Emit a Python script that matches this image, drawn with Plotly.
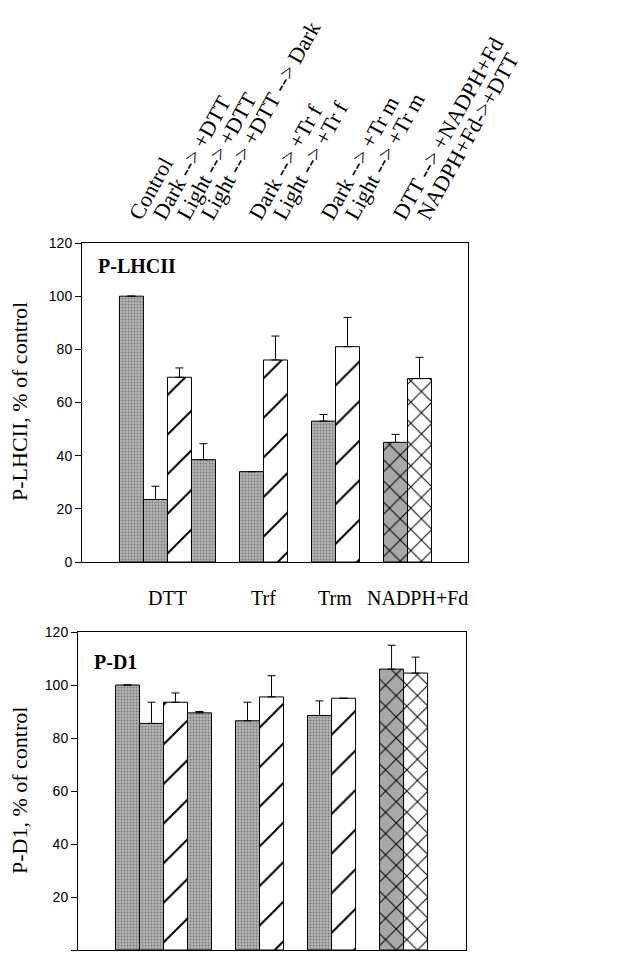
import plotly.graph_objects as go

# ---------------- data ----------------
conditions = ["Control", "Dark --> +DTT", "Light --> +DTT", "Light --> +DTT --> Dark",
              "Dark --> +Tr f", "Light --> +Tr f",
              "Dark --> +Tr m", "Light --> +Tr m",
              "DTT --> +NADPH+Fd", "NADPH+Fd->+DTT"]
group_names = ["DTT", "Trf", "Trm", "NADPH+Fd"]
group_sizes = [4, 2, 2, 2]

lhcii_values = [100, 23.5, 69.5, 38.5, 34, 76, 53, 81, 45, 69]
lhcii_errors = [None, 5, 3.5, 6, None, 9, 2.5, 11, 3, 8]

d1_values = [100, 85.5, 93.5, 89.5, 86.5, 95.5, 88.5, 95, 106, 104.5]
d1_errors = [None, 8, 3.5, 0.5, 7, 8, 5.5, None, 9, 6]

# ---------------- styles ----------------
bar_styles = ["stipple", "stipple", "hatch", "stipple", "stipple", "hatch",
              "stipple", "hatch", "xgray", "xwhite"]
STYLE = {
    "stipple": dict(shape=".", fg="#7c7c7c", bg="#b6b6b6", size=3, sol=0.35),
    "hatch": dict(shape="/", fg="black", bg="white", size=28, sol=0.07),
    "xgray": dict(shape="x", fg="black", bg="#a8a8a8", size=15, sol=0.13),
    "xwhite": dict(shape="x", fg="black", bg="white", size=15, sol=0.13),
}

# x positions: consecutive slots in a group, one empty slot between groups
positions = []
group_centers = []
slot = 0
for size in group_sizes:
    members = list(range(slot, slot + size))
    positions += members
    group_centers.append(sum(members) / size)
    slot += size + 1

serif = "Liberation Serif, Times New Roman, serif"
sans = "Liberation Sans, Arial, sans-serif"

fig = go.Figure()


def add_bars(values, errors, xa, ya):
    for style_name, st in STYLE.items():
        idx = [i for i, s in enumerate(bar_styles) if s == style_name]
        if not idx:
            continue
        fig.add_trace(go.Bar(
            x=[positions[i] for i in idx], y=[values[i] for i in idx],
            width=1, xaxis=xa, yaxis=ya,
            marker=dict(
                color=st["bg"],
                line=dict(color="black", width=1),
                pattern=dict(shape=st["shape"], fgcolor=st["fg"], bgcolor=st["bg"],
                             size=st["size"], solidity=st["sol"], fillmode="replace"),
            ),
            error_y=dict(type="data", symmetric=False,
                         array=[errors[i] for i in idx],
                         arrayminus=[0] * len(idx), color="black",
                         thickness=1, width=4),
            showlegend=False, hoverinfo="skip",
        ))


add_bars(lhcii_values, lhcii_errors, "x", "y")
add_bars(d1_values, d1_errors, "x2", "y2")

W, H = 618, 953

axis_common = dict(showgrid=False, zeroline=False, showline=True, linecolor="black",
                   linewidth=1, mirror=True, automargin=False)

fig.update_layout(
    width=W, height=H, margin=dict(l=0, r=0, t=0, b=0),
    paper_bgcolor="white", plot_bgcolor="white", barmode="overlay",
    xaxis=dict(domain=[82 / W, 468 / W], range=[-2.06, 14.02], anchor="y",
               side="top", tickmode="array", tickvals=positions, ticktext=conditions,
               tickangle=-61, ticks="", ticklabelstandoff=6,
               tickfont=dict(family=serif, size=22, color="black"), **axis_common),
    yaxis=dict(domain=[1 - 562 / H, 1 - 243 / H], range=[0, 120], dtick=20,
               ticks="outside", ticklen=6, tickcolor="black", anchor="x",
               tickfont=dict(family=sans, size=14, color="black"), **axis_common),
    xaxis2=dict(domain=[78 / W, 466 / W], range=[-2.06, 14.1], anchor="y2",
                showticklabels=False, ticks="", **axis_common),
    yaxis2=dict(domain=[1 - 950 / H, 1 - 632 / H], range=[0, 120], dtick=20,
                ticks="outside", ticklen=6, tickcolor="black", anchor="x2",
                tickfont=dict(family=sans, size=14, color="black"), **axis_common),
)

annotations = []
# group labels between the panels
for name, c in zip(group_names, group_centers):
    shift = 10 if name == "NADPH+Fd" else 0
    annotations.append(dict(x=c, y=1 - 598 / H, xref="x", yref="paper", text=name,
                            showarrow=False, xanchor="center", yanchor="middle",
                            xshift=shift,
                            font=dict(family=serif, size=20, color="black")))
# panel labels
annotations.append(dict(x=96 / W, y=1 - 266 / H, xref="paper", yref="paper",
                        text="<b>P-LHCII</b>", showarrow=False, xanchor="left",
                        yanchor="middle", font=dict(family=serif, size=20, color="black")))
annotations.append(dict(x=92 / W, y=1 - 662 / H, xref="paper", yref="paper",
                        text="<b>P-D1</b>", showarrow=False, xanchor="left",
                        yanchor="middle", font=dict(family=serif, size=20, color="black")))
# y titles
annotations.append(dict(x=19 / W, y=1 - 402 / H, xref="paper", yref="paper",
                        text="P-LHCII, % of control", textangle=-90, showarrow=False,
                        xanchor="center", yanchor="middle",
                        font=dict(family=serif, size=22, color="black")))
annotations.append(dict(x=19 / W, y=1 - 791 / H, xref="paper", yref="paper",
                        text="P-D1, % of control", textangle=-90, showarrow=False,
                        xanchor="center", yanchor="middle",
                        font=dict(family=serif, size=22, color="black")))
fig.update_layout(annotations=annotations)

fig.write_html("out.html", config={"displayModeBar": False},
               post_script="document.body.style.margin='0';document.body.style.overflow='hidden';")
